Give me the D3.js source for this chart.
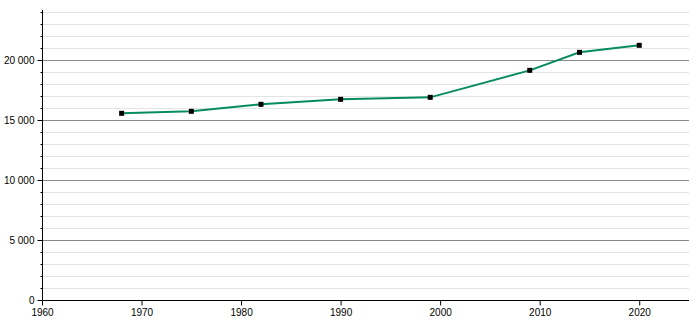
<!DOCTYPE html>
<html>
<head>
<meta charset="utf-8">
<script src="https://cdn.jsdelivr.net/npm/d3@7"></script>
<style>
  body { margin: 0; background: #fff; }
  text { font-family: "Liberation Sans", Arial, sans-serif; font-size: 10px; fill: #000; }
</style>
</head>
<body>
<svg id="chart" width="700" height="320"></svg>
<script>
// Population by census year
const years = [1968, 1975, 1982, 1990, 1999, 2009, 2014, 2020];
const population = [15560, 15725, 16310, 16725, 16890, 19140, 20640, 21225];

const xTicks = [1960, 1970, 1980, 1990, 2000, 2010, 2020];
const yMajorTicks = [0, 5000, 10000, 15000, 20000];

const svg = d3.select("#chart"),
      margin = {top: 10, right: 11, bottom: 20, left: 42},
      width = +svg.attr("width") - margin.left - margin.right,
      height = +svg.attr("height") - margin.top - margin.bottom;

const xScale = d3.scaleLinear().domain([1960, 2025]).range([0, width]),
      yScale = d3.scaleLinear().domain([0, 24170]).range([height, 0]);

const g = svg.append("g")
  .attr("transform", `translate(${margin.left}, ${margin.top})`);

// minor grid every 1000
const minor = d3.range(1000, 24001, 1000).filter(v => v % 5000 !== 0);
g.selectAll("line.minor")
  .data(minor)
  .enter()
  .append("line")
  .attr("x1", 0).attr("x2", width)
  .attr("y1", d => yScale(d) + 0.5).attr("y2", d => yScale(d) + 0.5)
  .attr("stroke", "#e4e4e4");

// major grid every 5000
g.selectAll("line.major")
  .data(yMajorTicks.filter(v => v > 0))
  .enter()
  .append("line")
  .attr("x1", 0).attr("x2", width)
  .attr("y1", d => yScale(d) + 0.5).attr("y2", d => yScale(d) + 0.5)
  .attr("stroke", "#888");

// y-axis with minor ticks
const yAxisMinor = d3.axisLeft(yScale)
  .tickValues(d3.range(0, 24001, 1000))
  .tickSize(2)
  .tickFormat("");
g.append("g")
  .attr("transform", "translate(0.5, 0)")
  .call(yAxisMinor)
  .call(a => a.select(".domain").remove());

g.append("g")
  .attr("transform", "translate(0.5, 0)")
  .call(d3.axisLeft(yScale).tickValues(yMajorTicks).tickSize(5).tickFormat(v => d3.format(",")(v).replace(/,/g, " ")).tickPadding(3))
  .call(a => a.select(".domain").attr("d", `M0,${height}V0`).attr("stroke", "#000"))
  .call(a => a.selectAll("text").style("font-size", "10px").style("font-family", "Liberation Sans, Arial, sans-serif"));

// x-axis
g.append("g")
  .attr("transform", `translate(0, ${height + 0.5})`)
  .call(d3.axisBottom(xScale).tickValues(xTicks).tickFormat(d3.format("d")).tickSize(5).tickPadding(3))
  .call(a => a.select(".domain").attr("d", `M0,0H${width}`).attr("stroke", "#000"))
  .call(a => a.selectAll("text").style("font-size", "10px").style("font-family", "Liberation Sans, Arial, sans-serif"));

// line
const line = d3.line()
  .x((d, i) => xScale(years[i]))
  .y(d => yScale(d));

g.append("path")
  .attr("d", line(population))
  .attr("fill", "none")
  .attr("stroke", "#078b62")
  .attr("stroke-width", 2);

// markers
g.selectAll("rect.pt")
  .data(population)
  .enter()
  .append("rect")
  .attr("x", (d, i) => xScale(years[i]) - 2.5)
  .attr("y", d => yScale(d) - 2.5)
  .attr("width", 5)
  .attr("height", 5)
  .attr("fill", "#000");
</script>
</body>
</html>
